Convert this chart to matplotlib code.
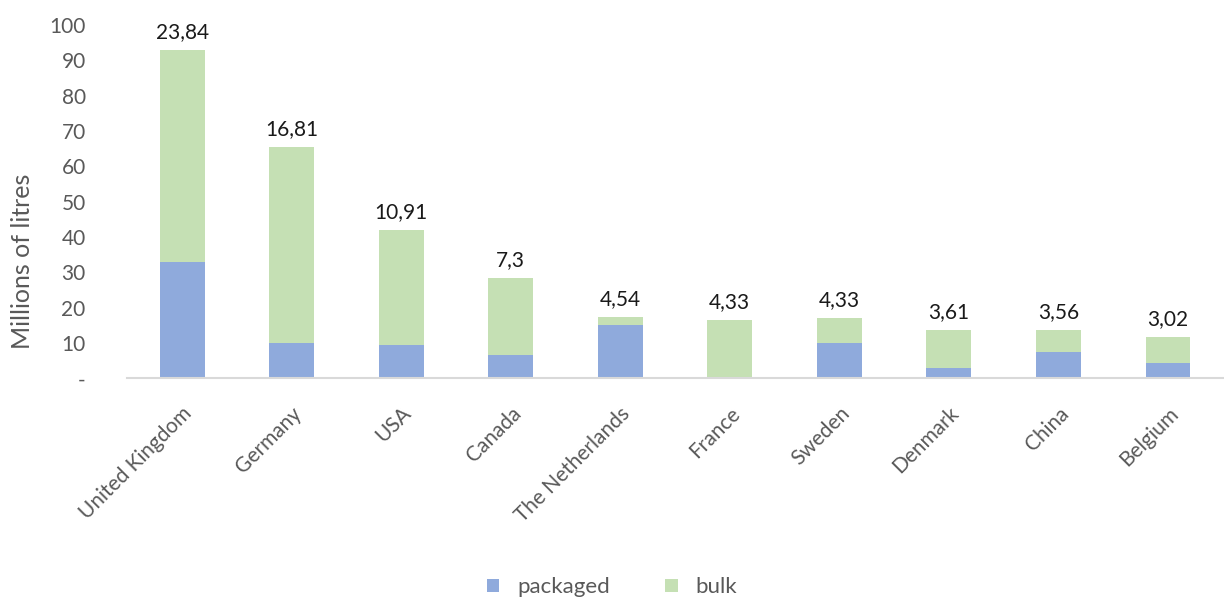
import numpy as np
import matplotlib.pyplot as plt

plt.rcParams['font.family'] = ['Lato', 'DejaVu Sans']

# Export volumes by destination country
countries = ['United Kingdom', 'Germany', 'USA', 'Canada', 'The Netherlands',
             'France', 'Sweden', 'Denmark', 'China', 'Belgium']
packaged = [32.9, 10.0, 9.3, 6.5, 15.0, 0.0, 9.9, 2.8, 7.4, 4.2]
bulk = [60.0, 55.4, 32.6, 21.8, 2.3, 16.4, 7.1, 10.8, 6.2, 7.4]
top_labels = ['23,84', '16,81', '10,91', '7,3', '4,54',
              '4,33', '4,33', '3,61', '3,56', '3,02']

blue = '#8faadc'
green = '#c5e0b4'
grey = '#595959'

fig = plt.figure(figsize=(12.24, 6.08), dpi=100)
ax = fig.add_axes([0.104, 0.378, 0.895, 0.581])

x = np.arange(len(countries))
ax.bar(x, packaged, width=0.41, color=blue, label='packaged')
ax.bar(x, bulk, width=0.41, bottom=packaged, color=green, label='bulk')

totals = np.array(packaged) + np.array(bulk)
for xi, t, lab in zip(x, totals, top_labels):
    ax.annotate(lab, (xi, t), xytext=(0, 6), textcoords='offset points',
                ha='center', va='bottom', fontsize=15, color='#1a1a1a')

ax.set_xlim(-0.5, len(countries) - 0.5)
ax.set_ylim(0, 100)
ax.set_yticks(np.arange(0, 101, 10))
ax.set_yticklabels(['-'] + [str(v) for v in range(10, 101, 10)])
ax.set_xticks(x)
ax.set_xticklabels(countries, rotation=45, ha='right', rotation_mode='anchor')
ax.tick_params(axis='both', length=0, labelsize=15, labelcolor=grey)
ax.tick_params(axis='y', pad=30)
ax.tick_params(axis='x', pad=18)

for side in ['top', 'right', 'left']:
    ax.spines[side].set_visible(False)
ax.spines['bottom'].set_color('#d9d9d9')
ax.spines['bottom'].set_linewidth(1.5)

ax.set_ylabel('Millions of litres', fontsize=18, color=grey)
ax.yaxis.set_label_coords(-0.085, 0.33)

fig.legend(loc='lower center', bbox_to_anchor=(0.5, -0.015), ncol=2, frameon=False,
           fontsize=16, labelcolor=grey, handlelength=0.55, handleheight=0.55,
           columnspacing=2.5)

fig.savefig('out.png', dpi=100)
